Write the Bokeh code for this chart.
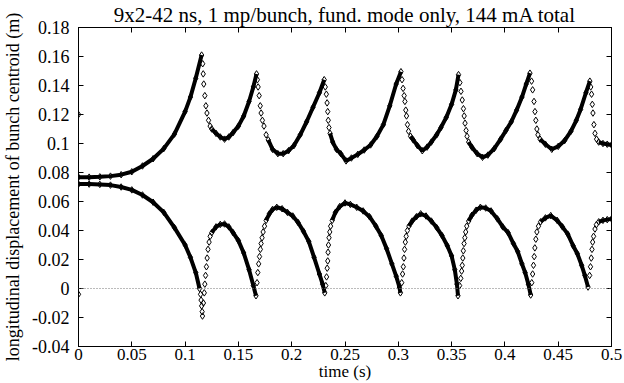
from bokeh.plotting import figure
from bokeh.models import LinearAxis, FixedTicker, Range1d, Span
from bokeh.embed import file_html
from bokeh.resources import INLINE

NaN = float("nan")

title_text = "9x2-42 ns, 1 mp/bunch, fund. mode only, 144 mA total"
x_label = "time (s)"
y_label = "longitudinal displacement of bunch centroid (m)"

x_ticks = [0, 0.05, 0.1, 0.15, 0.2, 0.25, 0.3, 0.35, 0.4, 0.45, 0.5]
x_tick_labels = ["0", "0.05", "0.1", "0.15", "0.2", "0.25", "0.3", "0.35", "0.4", "0.45", "0.5"]
y_ticks = [-0.04, -0.02, 0, 0.02, 0.04, 0.06, 0.08, 0.1, 0.12, 0.14, 0.16, 0.18]
y_tick_labels = ["-0.04", "-0.02", "0", "0.02", "0.04", "0.06", "0.08", "0.1", "0.12", "0.14", "0.16", "0.18"]

# upper branch: dense (slowly varying) stretches, NaN separates stretches
upper_curve_t = [0, 0.01, 0.02, 0.03, 0.04, 0.05, 0.06, 0.07, 0.08, 0.09, 0.1, 0.105, 0.11, 0.1155, NaN,
                 0.125, 0.129, 0.133, 0.137, 0.141, 0.145, 0.15, 0.155, 0.16, 0.164, 0.167, NaN,
                 0.178, 0.182, 0.187, 0.192, 0.197, 0.202, 0.208, 0.214, 0.22, 0.226, 0.2305, NaN,
                 0.236, 0.2385, 0.242, 0.246, 0.251, 0.256, 0.262, 0.268, 0.274, 0.28, 0.286, 0.292, 0.298, 0.3025, NaN,
                 0.3115, 0.314, 0.318, 0.3225, 0.327, 0.331, 0.336, 0.34, 0.345, 0.35, 0.354, 0.3565, NaN,
                 0.366, 0.369, 0.374, 0.379, 0.384, 0.39, 0.396, 0.401, 0.406, 0.411, 0.416, 0.42, 0.4235, NaN,
                 0.433, 0.438, 0.444, 0.45, 0.456, 0.462, 0.467, 0.471, 0.476, 0.4797, NaN,
                 0.488, 0.492, 0.496, 0.5]
upper_curve_v = [0.0768, 0.0768, 0.077, 0.0775, 0.0785, 0.0805, 0.0845, 0.0895, 0.0965, 0.1065, 0.122, 0.132, 0.145, 0.161, NaN,
                 0.11, 0.107, 0.1045, 0.103, 0.1045, 0.1075, 0.112, 0.119, 0.129, 0.139, 0.148, NaN,
                 0.1025, 0.096, 0.093, 0.093, 0.095, 0.0985, 0.106, 0.115, 0.125, 0.135, 0.144, NaN,
                 0.107, 0.101, 0.096, 0.093, 0.088, 0.09, 0.0925, 0.0955, 0.099, 0.105, 0.113, 0.126, 0.141, 0.1495, NaN,
                 0.105, 0.1025, 0.0985, 0.095, 0.0975, 0.101, 0.106, 0.111, 0.118, 0.127, 0.137, 0.1475, NaN,
                 0.101, 0.0975, 0.093, 0.0905, 0.092, 0.0965, 0.103, 0.109, 0.115, 0.123, 0.132, 0.141, 0.1485, NaN,
                 0.103, 0.0995, 0.096, 0.098, 0.102, 0.1085, 0.116, 0.1235, 0.135, 0.143, NaN,
                 0.101, 0.1, 0.0995, 0.099]

# upper branch: fast drops after each peak (separate markers)
upper_jump_t = [0.1165, 0.117, 0.1175, 0.1185, 0.1195, 0.1205, 0.122, 0.1235,
                0.1678, 0.1685, 0.1695, 0.1705, 0.1713, 0.1725, 0.174, 0.176,
                0.2315, 0.2325, 0.2332, 0.2338, 0.2343, 0.235,
                0.3035, 0.3045, 0.3055, 0.3062, 0.307, 0.3077, 0.3086, 0.3096,
                0.3578, 0.3588, 0.36, 0.3611, 0.3618, 0.3626, 0.3636, 0.3645,
                0.425, 0.426, 0.4273, 0.4282, 0.429, 0.43, 0.431,
                0.4805, 0.4813, 0.482, 0.4826, 0.4835, 0.4845, 0.486]
upper_jump_v = [0.155, 0.148, 0.141, 0.133, 0.126, 0.121, 0.116, 0.112,
                0.144, 0.139, 0.133, 0.126, 0.121, 0.116, 0.112, 0.106,
                0.139, 0.134, 0.128, 0.122, 0.116, 0.111,
                0.144, 0.138, 0.133, 0.129, 0.123, 0.119, 0.113, 0.1085,
                0.142, 0.136, 0.13, 0.124, 0.119, 0.114, 0.109, 0.105,
                0.143, 0.137, 0.129, 0.122, 0.116, 0.11, 0.106,
                0.139, 0.134, 0.127, 0.121, 0.113, 0.107, 0.103]

# lower branch
lower_curve_t = [0, 0.01, 0.02, 0.03, 0.04, 0.05, 0.06, 0.07, 0.08, 0.09, 0.1, 0.105, 0.11, 0.1135, NaN,
                 0.125, 0.129, 0.133, 0.137, 0.141, 0.145, 0.15, 0.155, 0.16, 0.164, 0.1665, NaN,
                 0.176, 0.179, 0.182, 0.186, 0.191, 0.196, 0.201, 0.206, 0.211, 0.216, 0.221, 0.226, 0.229, 0.231, NaN,
                 0.238, 0.241, 0.245, 0.25, 0.255, 0.261, 0.267, 0.273, 0.279, 0.284, 0.289, 0.294, 0.298, 0.301, 0.302, NaN,
                 0.31, 0.313, 0.317, 0.321, 0.326, 0.331, 0.336, 0.341, 0.346, 0.35, 0.353, 0.355, 0.356, NaN,
                 0.366, 0.369, 0.373, 0.377, 0.382, 0.387, 0.393, 0.398, 0.403, 0.408, 0.412, 0.416, 0.419, 0.422, 0.4242, NaN,
                 0.4335, 0.438, 0.443, 0.449, 0.454, 0.459, 0.464, 0.468, 0.472, 0.475, 0.478, NaN,
                 0.488, 0.492, 0.496, 0.5]
lower_curve_v = [0.072, 0.072, 0.0718, 0.0713, 0.07, 0.068, 0.0645, 0.0595, 0.0525, 0.042, 0.03, 0.0215, 0.011, 0.0, NaN,
                 0.0385, 0.0425, 0.0442, 0.0445, 0.0425, 0.0385, 0.033, 0.0245, 0.013, 0.002, -0.005, NaN,
                 0.047, 0.0515, 0.0545, 0.056, 0.055, 0.0525, 0.05, 0.0455, 0.0395, 0.0325, 0.0215, 0.01, 0.003, -0.003, NaN,
                 0.047, 0.0525, 0.0565, 0.059, 0.058, 0.056, 0.0535, 0.0495, 0.043, 0.0365, 0.0275, 0.017, 0.0085, 0.001, -0.003, NaN,
                 0.043, 0.0465, 0.0495, 0.0515, 0.05, 0.0465, 0.042, 0.0365, 0.0295, 0.0225, 0.013, 0.003, -0.005, NaN,
                 0.0465, 0.0505, 0.054, 0.056, 0.0555, 0.0535, 0.048, 0.0425, 0.0385, 0.031, 0.0255, 0.017, 0.011, 0.003, -0.0045, NaN,
                 0.046, 0.0487, 0.0503, 0.047, 0.0425, 0.0375, 0.0295, 0.024, 0.016, 0.009, 0.001, NaN,
                 0.046, 0.047, 0.0475, 0.048]

lower_jump_t = [0.1145, 0.115, 0.1155, 0.116, 0.1163, 0.1172, 0.118, 0.1185, 0.1192, 0.12, 0.1207, 0.1215, 0.1225, 0.1235,
                0.1675, 0.1682, 0.169, 0.1698, 0.1706, 0.1713, 0.1722, 0.1732, 0.1745,
                0.232, 0.2327, 0.2333, 0.2338, 0.2341, 0.2345, 0.235, 0.2357, 0.2365,
                0.3032, 0.304, 0.3047, 0.3053, 0.3059, 0.3066, 0.3074, 0.3085,
                0.3575, 0.3586, 0.3594, 0.36, 0.3605, 0.361, 0.3617, 0.3624, 0.3632, 0.3642,
                0.4252, 0.426, 0.4268, 0.4275, 0.4281, 0.429, 0.43, 0.4315,
                0.4795, 0.4803, 0.481, 0.4817, 0.4823, 0.4832, 0.4845, 0.4858]
lower_jump_v = [-0.004, -0.008, -0.012, -0.016, -0.019, -0.01, -0.003, 0.003, 0.009, 0.015, 0.021, 0.027, 0.032, 0.036,
                0.004, 0.011, 0.017, 0.022, 0.027, 0.031, 0.035, 0.039, 0.043,
                0.002, 0.008, 0.014, 0.019, 0.025, 0.03, 0.035, 0.039, 0.043,
                0.004, 0.01, 0.015, 0.021, 0.027, 0.032, 0.036, 0.04,
                0.002, 0.007, 0.012, 0.016, 0.021, 0.026, 0.031, 0.035, 0.039, 0.043,
                0.004, 0.01, 0.016, 0.022, 0.028, 0.034, 0.039, 0.043,
                0.009, 0.015, 0.021, 0.027, 0.032, 0.036, 0.041, 0.044]

stray_t = [0, 0]
stray_v = [0.12, -0.004]

FONT = "Liberation Serif"

p = figure(width=624, height=383, x_range=Range1d(0, 0.5), y_range=Range1d(-0.04, 0.18),
           output_backend="svg", toolbar_location=None,
           min_border_left=77, min_border_right=13, min_border_top=4, min_border_bottom=35,
           x_axis_label=x_label, y_axis_label=y_label)
p.background_fill_color = "white"
p.border_fill_color = "white"
p.outline_line_color = "black"
p.outline_line_width = 1
p.xgrid.visible = False
p.ygrid.visible = False

p.title.text = title_text
p.title.align = "center"
p.title.text_font = FONT
p.title.text_font_size = "21px"
p.title.text_font_style = "normal"
p.title.text_color = "black"
p.title.standoff = 1

x_over = dict(zip(x_ticks, x_tick_labels))
y_over = dict(zip(y_ticks, y_tick_labels))

for ax, over, ticks in ((p.xaxis[0], x_over, x_ticks), (p.yaxis[0], y_over, y_ticks)):
    ax.ticker = FixedTicker(ticks=ticks)
    ax.major_label_overrides = over
    ax.major_tick_in = 5
    ax.major_tick_out = 0
    ax.minor_tick_line_color = None
    ax.axis_line_color = "black"
    ax.major_tick_line_color = "black"
    ax.major_label_text_font = FONT
    ax.major_label_text_font_size = "18px"
    ax.major_label_text_color = "black"
    ax.axis_label_text_font = FONT
    ax.axis_label_text_font_size = "18px"
    ax.axis_label_text_font_style = "normal"
    ax.axis_label_text_color = "black"

p.xaxis[0].major_label_text_font_size = "17px"
p.xaxis[0].axis_label_text_font_size = "17px"
p.xaxis[0].major_label_standoff = 2
p.xaxis[0].axis_label_standoff = -1
p.yaxis[0].major_label_standoff = 9
p.yaxis[0].axis_label_standoff = 6

for loc, ticks in (("above", x_ticks), ("right", y_ticks)):
    ax = LinearAxis(ticker=FixedTicker(ticks=ticks), major_label_text_font_size="0px",
                    major_label_text_color=None,
                    major_label_standoff=0, major_tick_in=5, major_tick_out=0,
                    minor_tick_line_color=None, axis_line_color="black",
                    major_tick_line_color="black")
    p.add_layout(ax, loc)

p.add_layout(Span(location=0, dimension="width", line_color="#777777",
                  line_dash="1 2", line_width=1))

p.line(upper_curve_t, upper_curve_v, line_width=4, color="black")
p.line(lower_curve_t, lower_curve_v, line_width=4, color="black")

all_t = [t for t in upper_curve_t + lower_curve_t if t == t] + upper_jump_t + lower_jump_t + stray_t
all_v = [v for v in upper_curve_v + lower_curve_v if v == v] + upper_jump_v + lower_jump_v + stray_v
p.scatter(all_t, all_v, marker="diamond", size=6.5, fill_color=None,
          line_color="black", line_width=1)

open("out.html", "w").write(file_html(p, INLINE))
